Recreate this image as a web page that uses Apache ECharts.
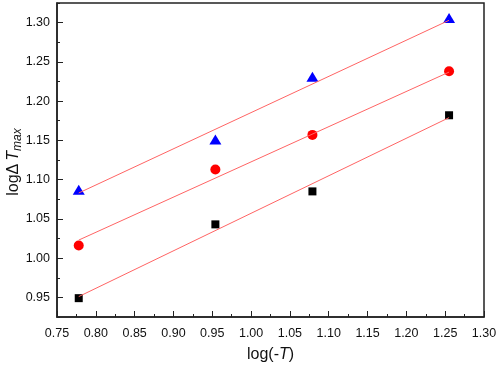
<!DOCTYPE html>
<html>
<head>
<meta charset="utf-8">
<script src="https://cdn.jsdelivr.net/npm/echarts@6/dist/echarts.min.js"></script>
<style>
  html, body { margin: 0; padding: 0; background: #fff; }
  #chart { width: 498px; height: 365px; }
</style>
</head>
<body>
<div id="chart"></div>
<script>
// log(-T) positions of the four runs
var xVals = [0.778, 0.954, 1.079, 1.255];
// logΔTmax measured points
var triVals = [1.087, 1.151, 1.231, 1.306];
var circVals = [1.016, 1.113, 1.157, 1.238];
var sqVals = [0.949, 1.043, 1.085, 1.182];
// fitted line end points
var fitX = [0.778, 1.255];
var triFit = [1.083, 1.303];
var circFit = [1.023, 1.237];
var sqFit = [0.951, 1.179];
// y tick positions
var yMajor = [0.95, 1.0, 1.05, 1.1, 1.15, 1.2, 1.25, 1.3];
var yMinor = [0.925, 0.975, 1.025, 1.075, 1.125, 1.175, 1.225, 1.275, 1.325];

function pairs(xs, ys) {
    return xs.map(function (x, i) { return [x, ys[i]]; });
}

var myChart = echarts.init(document.getElementById('chart'));

var axisColor = '#222';
var fam = 'Liberation Sans, Arial, sans-serif';
var labelFont = { color: '#111', fontSize: 12.5, fontFamily: fam };

var option = {
    backgroundColor: '#fff',
    animation: false,
    grid: {
        left: 57, top: 3, right: 14, bottom: 48,
        containLabel: false,
        outerBoundsMode: 'none',
        show: true, borderColor: axisColor, borderWidth: 1.5
    },
    // y title drawn as a rotated rich text
    graphic: [{
        type: 'text',
        x: 14, y: 162,
        rotation: Math.PI / 2,
        style: {
            text: '{a|logΔ}{b|T}{c|max}',
            align: 'center',
            verticalAlign: 'middle',
            rich: {
                a: { fontSize: 16, fill: '#111', fontFamily: fam },
                b: { fontSize: 16, fill: '#111', fontStyle: 'italic', fontFamily: fam, padding: [0, 0, 0, 3] },
                c: { fontSize: 12, fill: '#111', fontStyle: 'italic', fontFamily: fam, verticalAlign: 'bottom', padding: [7, 0, 0, 0] }
            }
        }
    }],
    xAxis: {
        type: 'value',
        min: 0.75, max: 1.30, interval: 0.05,
        name: '{a|log(-}{b|T}{a|)}',
        nameLocation: 'middle',
        nameGap: 30,
        nameTextStyle: {
            rich: {
                a: { fontSize: 16, color: '#111', fontFamily: fam },
                b: { fontSize: 16, color: '#111', fontStyle: 'italic', fontFamily: fam }
            }
        },
        axisLine: { lineStyle: { color: axisColor, width: 1.5 } },
        axisTick: { inside: true, length: 6, lineStyle: { color: axisColor } },
        minorTick: { show: true, splitNumber: 2, length: 3, lineStyle: { color: axisColor } },
        axisLabel: Object.assign({ margin: 10, formatter: function (v) { return v.toFixed(2); } }, labelFont),
        splitLine: { show: false }
    },
    yAxis: [{
        type: 'value',
        min: 0.925, max: 1.325,
        axisLine: { lineStyle: { color: axisColor, width: 1.5 } },
        axisTick: { inside: true, length: 6, customValues: yMajor, lineStyle: { color: axisColor } },
        axisLabel: Object.assign({ margin: 7, customValues: yMajor, formatter: function (v) { return v.toFixed(2); } }, labelFont),
        splitLine: { show: false }
    }, {
        type: 'value',
        min: 0.925, max: 1.325,
        position: 'left',
        axisLine: { show: false },
        axisTick: { inside: true, length: 3, customValues: yMinor, lineStyle: { color: axisColor } },
        axisLabel: { show: false },
        splitLine: { show: false }
    }],
    series: [
        { type: 'line', data: pairs(fitX, triFit), symbol: 'none', lineStyle: { color: '#ff6464', width: 1 } },
        { type: 'line', data: pairs(fitX, circFit), symbol: 'none', lineStyle: { color: '#ff6464', width: 1 } },
        { type: 'line', data: pairs(fitX, sqFit), symbol: 'none', lineStyle: { color: '#ff6464', width: 1 } },
        { type: 'scatter', data: pairs(xVals, triVals), symbol: 'triangle', symbolSize: [12, 10], itemStyle: { color: '#0000ff', opacity: 1 } },
        { type: 'scatter', data: pairs(xVals, circVals), symbol: 'circle', symbolSize: 10, itemStyle: { color: '#ff0000', opacity: 1 } },
        { type: 'scatter', data: pairs(xVals, sqVals), symbol: 'rect', symbolSize: 8, itemStyle: { color: '#000', opacity: 1 } }
    ]
};

myChart.setOption(option);
</script>
</body>
</html>
